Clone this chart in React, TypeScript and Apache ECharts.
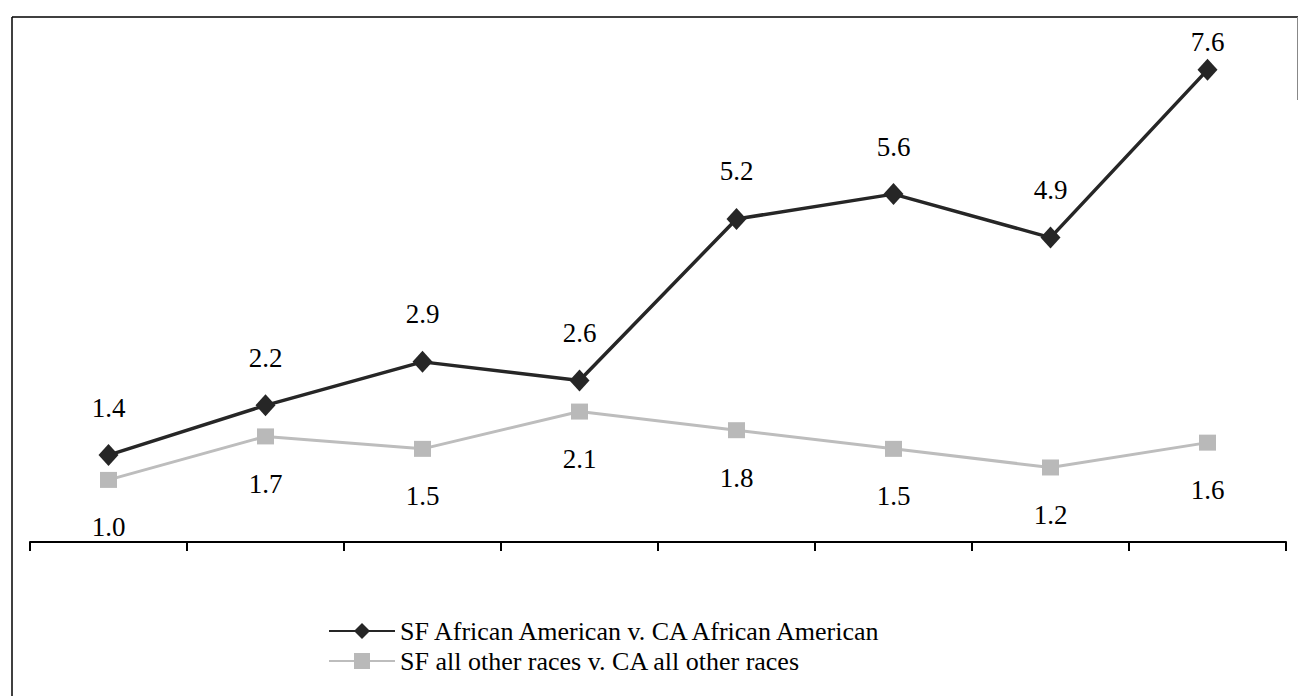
import React, { useEffect, useRef } from "react";
import * as echarts from "echarts";

const categories = ["1", "2", "3", "4", "5", "6", "7", "8"];
const seriesNames = [
  "SF African American v. CA African American",
  "SF all other races v. CA all other races",
];
const africanAmerican = [1.4, 2.2, 2.9, 2.6, 5.2, 5.6, 4.9, 7.6];
const otherRaces = [1.0, 1.7, 1.5, 2.1, 1.8, 1.5, 1.2, 1.6];

const FONT = "Liberation Serif, Times New Roman, serif";

export default function App() {
  const ref = useRef<HTMLDivElement>(null);
  useEffect(() => {
    if (!ref.current) return;
    const chart = echarts.init(ref.current, null, { renderer: "svg" });
    const blackData = africanAmerican.map((v, i) =>
      i === africanAmerican.length - 1 ? { value: v, label: { distance: 3 } } : { value: v }
    );
    const grayData = otherRaces.map((v) => ({ value: v }));
    chart.setOption({
      animation: false,
      backgroundColor: "#ffffff",
      textStyle: { fontFamily: FONT },
      grid: { left: 30, right: 13, top: 45, bottom: 146.5 },
      xAxis: {
        type: "category",
        data: categories,
        boundaryGap: true,
        axisLine: { show: true, lineStyle: { color: "#000", width: 2 } },
        axisTick: { show: true, length: 9, lineStyle: { color: "#000", width: 2 } },
        axisLabel: { show: false },
        splitLine: { show: false },
      },
      yAxis: {
        type: "value",
        min: -0.12,
        max: 8,
        show: false,
        splitLine: { show: false },
      },
      legend: {
        orient: "vertical",
        left: 323,
        top: 613,
        itemWidth: 66,
        itemHeight: 20,
        itemGap: 4,
        textStyle: { fontFamily: FONT, fontSize: 26, lineHeight: 26, color: "#000" },
        data: seriesNames,
      },
      series: [
        {
          name: seriesNames[0],
          type: "line",
          data: blackData,
          symbol: "diamond",
          symbolSize: [20, 22],
          itemStyle: { color: "#262626" },
          lineStyle: { color: "#262626", width: 3.5 },
          label: {
            show: true,
            position: "top",
            distance: 23,
            fontFamily: FONT,
            fontSize: 27,
            color: "#000",
            formatter: (p: any) => Number(p.value).toFixed(1),
          },
          z: 3,
        },
        {
          name: seriesNames[1],
          type: "line",
          data: grayData,
          symbol: "rect",
          symbolSize: [17, 16],
          itemStyle: { color: "#b9b9b9" },
          lineStyle: { color: "#bdbdbd", width: 3 },
          label: {
            show: true,
            position: "bottom",
            distance: 26,
            fontFamily: FONT,
            fontSize: 27,
            color: "#000",
            formatter: (p: any) => Number(p.value).toFixed(1),
          },
          z: 2,
        },
      ],
      graphic: [
        { type: "line", shape: { x1: 12, y1: 17, x2: 1298, y2: 17 }, style: { stroke: "#000", lineWidth: 1.5 } },
        { type: "line", shape: { x1: 12, y1: 17, x2: 12, y2: 696 }, style: { stroke: "#000", lineWidth: 1.5 } },
        { type: "line", shape: { x1: 1297.5, y1: 17, x2: 1297.5, y2: 100 }, style: { stroke: "#888", lineWidth: 1 } },
      ],
    });
    return () => chart.dispose();
  }, []);
  return (
    <div
      ref={ref}
      style={{ position: "fixed", left: 0, top: 0, width: 1299, height: 696, background: "#fff" }}
    />
  );
}
